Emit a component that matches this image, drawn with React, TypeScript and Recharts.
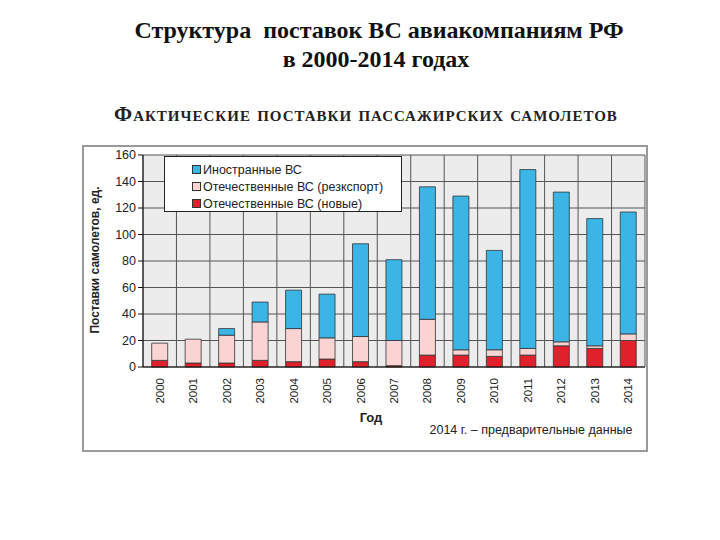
import React from "react";
import { Bar, BarChart, CartesianGrid, XAxis, YAxis } from "recharts";

const years = ["2000", "2001", "2002", "2003", "2004", "2005", "2006", "2007", "2008", "2009", "2010", "2011", "2012", "2013", "2014"];
const domesticNew = [5, 3, 3, 5, 4, 6, 4, 1, 9, 9, 8, 9, 16, 14, 20];
const domesticReexport = [13, 18, 21, 29, 25, 16, 19, 19, 27, 4, 5, 5, 3, 2, 5];
const foreign = [0, 0, 5, 15, 29, 33, 70, 61, 100, 116, 75, 135, 113, 96, 92];
const yTicks = [0, 20, 40, 60, 80, 100, 120, 140, 160];

const data = years.map((year, i) => ({
  year,
  domesticNew: domesticNew[i],
  domesticReexport: domesticReexport[i],
  foreign: foreign[i],
}));

const BLUE = "#3ab5e6";
const PINK = "#fad3d3";
const RED = "#e0202a";
const SANS = "'Liberation Sans', Arial, sans-serif";
const SERIF = "'Liberation Serif', 'Times New Roman', serif";

// bottom to top in the stack
const series = [
  { key: "domesticNew", name: "Отечественные ВС (новые)", color: RED },
  { key: "domesticReexport", name: "Отечественные ВС (резкспорт)", color: PINK },
  { key: "foreign", name: "Иностранные ВС", color: BLUE },
];

function YearTick({ x, y, payload }: any) {
  return (
    <text
      x={x}
      y={y}
      transform={`rotate(-90, ${x}, ${y})`}
      dx={-3}
      dy={4}
      textAnchor="end"
      fontSize={11.5}
      fontFamily={SANS}
      fill="#222"
    >
      {payload.value}
    </text>
  );
}

function LegendBox() {
  return (
    <div
      style={{
        position: "absolute",
        left: 164,
        top: 156,
        background: "#fff",
        border: "1px solid #222",
        width: 238,
        height: 56,
        padding: "4px 0 0 27px",
        boxSizing: "border-box",
        fontFamily: SANS,
        fontSize: 12.5,
        color: "#222",
      }}
    >
      {[...series].reverse().map((s) => (
        <div key={s.key} style={{ display: "flex", alignItems: "center", height: 17 }}>
          <span
            style={{
              width: 7,
              height: 7,
              background: s.color,
              border: "1px solid #333",
              marginRight: 2,
              display: "inline-block",
            }}
          />
          {s.name}
        </div>
      ))}
    </div>
  );
}

export default function App() {
  return (
    <div style={{ position: "absolute", left: 0, top: 0, width: 720, height: 540, background: "#fff" }}>
      <div
        style={{
          position: "absolute",
          left: 379,
          top: 17,
          transform: "translateX(-50%)",
          whiteSpace: "pre",
          fontFamily: SERIF,
          fontWeight: "bold",
          fontSize: 24,
          color: "#111",
        }}
      >
        {"Структура  поставок ВС авиакомпаниям РФ"}
      </div>
      <div
        style={{
          position: "absolute",
          left: 376,
          top: 46,
          transform: "translateX(-50%)",
          whiteSpace: "pre",
          fontFamily: SERIF,
          fontWeight: "bold",
          fontSize: 24,
          color: "#111",
        }}
      >
        в 2000-2014 годах
      </div>
      <div
        style={{
          position: "absolute",
          left: 366,
          top: 102,
          transform: "translateX(-50%)",
          whiteSpace: "pre",
          fontFamily: SERIF,
          fontWeight: "bold",
          fontVariant: "small-caps",
          fontSize: 21,
          letterSpacing: 1,
          color: "#222",
        }}
      >
        Фактические поставки пассажирских самолетов
      </div>

      <div
        style={{
          position: "absolute",
          left: 82,
          top: 145,
          width: 566,
          height: 307,
          border: "2px solid #9a9a9a",
          boxSizing: "border-box",
        }}
      />

      <div style={{ position: "absolute", left: 82, top: 145 }}>
        <BarChart
          width={566}
          height={307}
          data={data}
          margin={{ top: 10, right: 3, left: 0, bottom: 40 }}
          barCategoryGap="26%"
        >
          <CartesianGrid
            fill="#ececec"
            stroke="#555"
            strokeWidth={1}
            verticalCoordinatesGenerator={({ offset }: any) =>
              years.map((_, i) => offset.left + (i * offset.width) / years.length).concat(offset.left + offset.width)
            }
          />
          <XAxis
            dataKey="year"
            interval={0}
            height={45}
            tickLine={false}
            axisLine={{ stroke: "#111" }}
            tick={<YearTick />}
          />
          <YAxis
            width={61}
            domain={[0, 160]}
            ticks={yTicks}
            interval={0}
            tickSize={5}
            tickLine={{ stroke: "#111" }}
            axisLine={{ stroke: "#111" }}
            tick={{ fontSize: 12.5, fontFamily: SANS, fill: "#222" }}
          />
          {series.map((s) => (
            <Bar
              key={s.key}
              dataKey={s.key}
              name={s.name}
              stackId="a"
              fill={s.color}
              stroke="#333"
              strokeWidth={0.8}
              isAnimationActive={false}
            />
          ))}
        </BarChart>
      </div>

      <LegendBox />

      <div
        style={{
          position: "absolute",
          left: 95,
          top: 260,
          transform: "translate(-50%, -50%) rotate(-90deg)",
          whiteSpace: "pre",
          fontFamily: SANS,
          fontWeight: "bold",
          fontSize: 12,
          color: "#222",
        }}
      >
        Поставки самолетов, ед.
      </div>
      <div
        style={{
          position: "absolute",
          left: 371,
          top: 417,
          transform: "translate(-50%, -50%)",
          fontFamily: SANS,
          fontWeight: "bold",
          fontSize: 13,
          color: "#222",
        }}
      >
        Год
      </div>
      <div
        style={{
          position: "absolute",
          left: 531,
          top: 430,
          transform: "translate(-50%, -50%)",
          whiteSpace: "pre",
          fontFamily: SANS,
          fontSize: 12.5,
          color: "#222",
        }}
      >
        2014 г. – предварительные данные
      </div>
    </div>
  );
}
